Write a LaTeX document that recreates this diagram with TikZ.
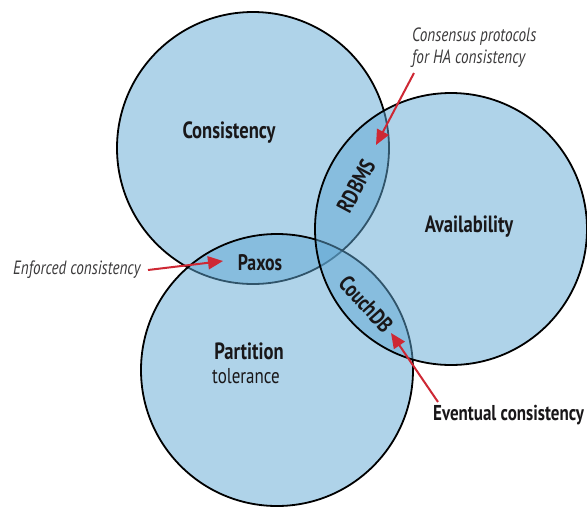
\documentclass[tikz,border=0pt]{standalone}
\usepackage{fontspec}
\setmainfont{PT Sans}
\newfontfamily\cond[FakeStretch=0.79]{PT Sans}
\usetikzlibrary{arrows.meta}
\definecolor{vblue}{RGB}{97,169,213}
\definecolor{ared}{RGB}{206,40,52}
\definecolor{ink}{RGB}{25,23,25}
\tikzset{
  venn/.style={draw=black, line width=1.8pt, fill=vblue, fill opacity=0.5, draw opacity=1},
  biglabel/.style={font=\cond\bfseries\fontsize{23.5}{25}\selectfont, text=ink, inner sep=0pt},
  lenslabel/.style={font=\cond\bfseries\fontsize{22.5}{24}\selectfont, text=ink, inner sep=0pt},
  note/.style={font=\cond\itshape\fontsize{19.2}{22}\selectfont, text=ink!85, inner sep=0pt, align=left},
  pointer/.style={draw=ared, line width=2pt, -{Triangle[length=15pt,width=13pt]}}
}
\begin{document}
\begin{tikzpicture}[x={(1pt,0)}, y={(0,-1pt)}]
\fill[white] (0,0) rectangle (587,507);
\useasboundingbox (0,0) rectangle (587,507);
% circles (order: consistency, partition, availability)
\draw[venn] (253,148) circle[radius=136pt];
\draw[venn] (277,370) circle[radius=136pt];
\draw[venn] (451,229) circle[radius=136pt];
% labels
\node[biglabel] (cons) at (229,133) {Consistency};
\node[biglabel] (avail) at (469,227) {Availability};
\node[biglabel] (part) at (249,351) {Partition};
\node[font=\cond\fontsize{21.5}{23}\selectfont, text=ink, inner sep=0pt] (tol) at (246,376) {tolerance};
\node[lenslabel] (paxos) at (260,263) {Paxos};
\node[lenslabel, rotate=62] (rdbms) at (356,186) {RDBMS};
\node[lenslabel, rotate=-48] (couch) at (366,304) {CouchDB};
% notes
\node[note, anchor=west] (enf) at (13,270) {Enforced consistency};
\node[note, anchor=north west] (consp) at (412,28) {Consensus protocols\\for HA consistency};
\node[font=\cond\bfseries\fontsize{21.5}{23}\selectfont, text=ink, inner sep=0pt, anchor=west] (event) at (433,415) {Eventual consistency};
% arrow endpoints
\coordinate (enfA) at (148,270);
\coordinate (enfB) at (223,261);
\coordinate (conA) at (414,73);
\coordinate (conB) at (376,145);
\coordinate (evA) at (438,402);
\coordinate (evB) at (391,333);
\draw[pointer] (enfA) -- (enfB);
\draw[pointer] (conA) -- (conB);
\draw[pointer] (evA) -- (evB);
\end{tikzpicture}
\end{document}
